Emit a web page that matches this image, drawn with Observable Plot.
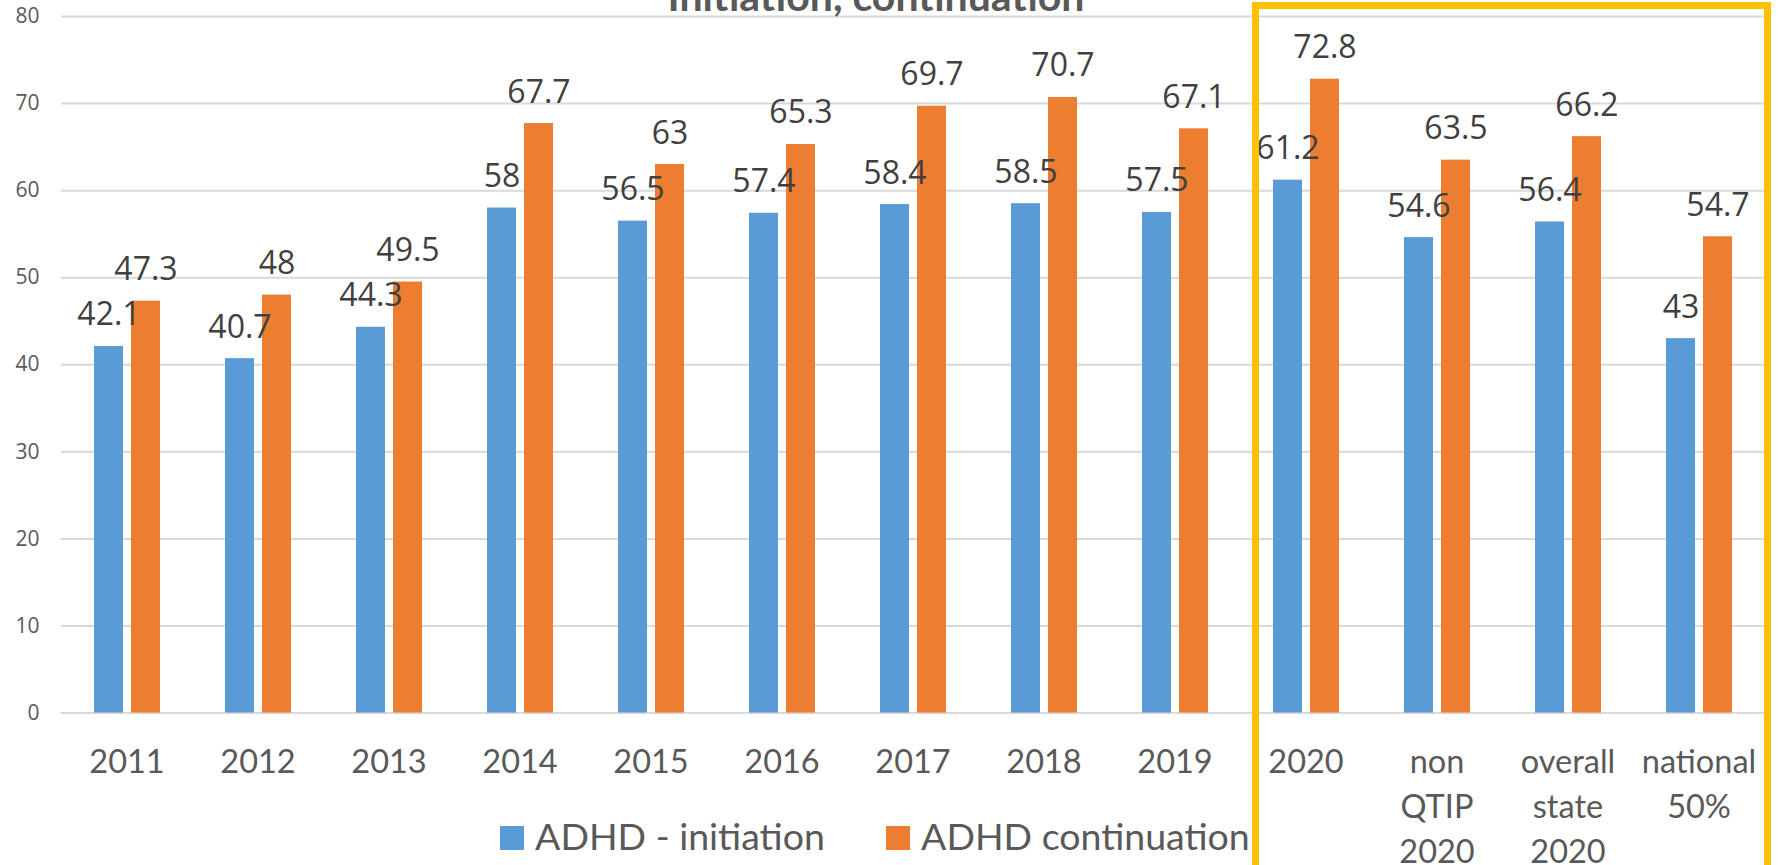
<!DOCTYPE html>
<html>
<head>
<meta charset="utf-8">
<script src="https://cdn.jsdelivr.net/npm/d3@7"></script>
<script src="https://cdn.jsdelivr.net/npm/@observablehq/plot@0.6"></script>
<style>
  html, body { margin: 0; padding: 0; background: #fff; overflow: hidden; }
  #wrap { position: relative; width: 1779px; height: 865px; overflow: hidden; background: #fff; }
  #wrap svg.plot-main { position: absolute; left: 0; top: 0; }
  #overlay { position: absolute; left: 0; top: 0; pointer-events: none; }
  #highlight { position: absolute; left: 1252px; top: 2px; width: 519px; height: 900px;
               box-sizing: border-box; border: 7.5px solid #FFC000; pointer-events: none; }
</style>
</head>
<body>
<div id="wrap"></div>
<script>
// ---- data ----
const categories = ["2011", "2012", "2013", "2014", "2015", "2016", "2017", "2018", "2019", "2020",
                    "non\nQTIP\n2020", "overall\nstate\n2020", "national\n50%"];
const seriesNames = ["ADHD - initiation", "ADHD continuation"];
const initiation   = [42.1, 40.7, 44.3, 58, 56.5, 57.4, 58.4, 58.5, 57.5, 61.2, 54.6, 56.4, 43];
const continuation = [47.3, 48, 49.5, 67.7, 63, 65.3, 69.7, 70.7, 67.1, 72.8, 63.5, 66.2, 54.7];
const seriesColors = ["#5B9BD5", "#ED7D31"];
const yTicks = [0, 10, 20, 30, 40, 50, 60, 70, 80];
const titleText = "Initiation, continuation";

// table for the library
const rows = [];
categories.forEach((c, i) => {
  rows.push({cat: c, series: seriesNames[0], value: initiation[i]});
  rows.push({cat: c, series: seriesNames[1], value: continuation[i]});
});

const W = 1779, H = 865;
const plot = Plot.plot({
  width: W,
  height: H,
  marginTop: 16,
  marginBottom: 152.5,
  marginLeft: 57,
  marginRight: 12,
  style: {background: "transparent", overflow: "visible"},
  fx: {domain: categories, padding: 0, label: null},
  x: {domain: seriesNames, paddingInner: 0.229, paddingOuter: 0.864, axis: null},
  y: {domain: [0, 80], label: null},
  color: {domain: seriesNames, range: seriesColors},
  marks: [
    Plot.gridY(yTicks, {stroke: "#d9d9d9", strokeOpacity: 1, strokeWidth: 2}),
    Plot.axisY(yTicks, {tickSize: 0, tickPadding: 22, fontSize: 21, fill: "#595959",
                        fontFamily: "'Open Sans', sans-serif", label: null}),
    Plot.axisFx({anchor: "bottom", tickSize: 0, tickPadding: 28.5, fontSize: 32.5, lineHeight: 1.385,
                 fill: "#595959", fontFamily: "Lato, 'Liberation Sans', sans-serif", label: null}),
    Plot.barY(rows, {fx: "cat", x: "series", y: "value", fill: "series"}),
    Plot.text(rows, {fx: "cat", x: "series", y: "value", text: d => String(d.value),
                     dy: -21, lineAnchor: "bottom", fontSize: 32, fill: "#404040",
                     fontFamily: "'Open Sans', sans-serif"})
  ]
});
plot.classList.add("plot-main");
const wrap = document.getElementById("wrap");
wrap.appendChild(plot);

// overlay: title (cut off at top) and legend
const ns = "http://www.w3.org/2000/svg";
const ov = document.createElementNS(ns, "svg");
ov.setAttribute("id", "overlay");
ov.setAttribute("width", W);
ov.setAttribute("height", H);
const t = document.createElementNS(ns, "text");
t.setAttribute("x", 876);
t.setAttribute("y", 11);
t.setAttribute("text-anchor", "middle");
t.setAttribute("font-family", "Lato, 'Liberation Sans', sans-serif");
t.setAttribute("font-weight", "bold");
t.setAttribute("font-size", 41);
t.setAttribute("fill", "#595959");
t.textContent = titleText;
ov.appendChild(t);

const legendX = [500, 886];
seriesNames.forEach((name, i) => {
  const r = document.createElementNS(ns, "rect");
  r.setAttribute("x", legendX[i]);
  r.setAttribute("y", 826);
  r.setAttribute("width", 24);
  r.setAttribute("height", 24);
  r.setAttribute("fill", seriesColors[i]);
  ov.appendChild(r);
  const tx = document.createElementNS(ns, "text");
  tx.setAttribute("x", legendX[i] + 35);
  tx.setAttribute("y", 850);
  tx.setAttribute("font-family", "Lato, 'Liberation Sans', sans-serif");
  tx.setAttribute("font-size", 37.5);
  tx.setAttribute("fill", "#595959");
  tx.textContent = name;
  ov.appendChild(tx);
});
wrap.appendChild(ov);

const hl = document.createElement("div");
hl.id = "highlight";
wrap.appendChild(hl);
</script>
</body>
</html>
